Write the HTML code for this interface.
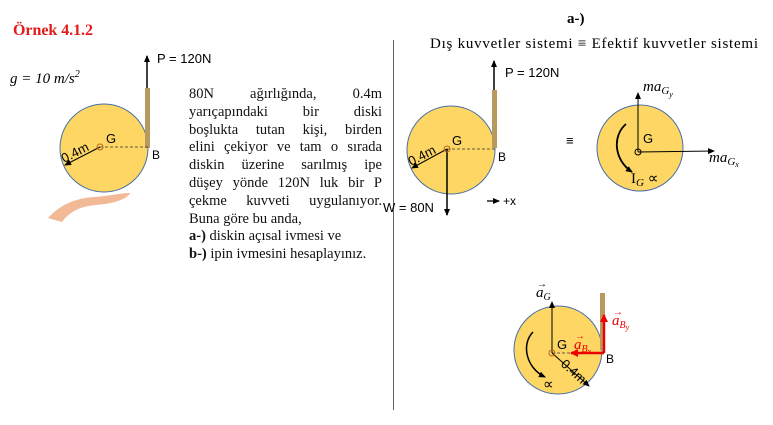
<!DOCTYPE html>
<html><head><meta charset="utf-8"><style>
html,body{margin:0;padding:0;background:#fff;width:773px;height:425px;overflow:hidden;position:relative}
svg{position:absolute;left:0;top:0}
.p{position:absolute;left:189px;top:86px;width:193px;font-family:"Liberation Serif",serif;font-size:14.5px;line-height:17.8px;color:#111}
.p div{text-align:justify;text-align-last:justify;white-space:nowrap}
.p div.l{text-align-last:left}
</style></head><body>
<svg width="773" height="425" viewBox="0 0 773 425" font-family="Liberation Sans, sans-serif">
<defs>
<marker id="a" markerWidth="8" markerHeight="8" refX="6" refY="3" orient="auto" markerUnits="userSpaceOnUse"><path d="M0,0 L7,3 L0,6z" fill="#000"/></marker>
<marker id="r" markerWidth="10" markerHeight="10" refX="7" refY="4" orient="auto" markerUnits="userSpaceOnUse"><path d="M0,0 L8,4 L0,8z" fill="#e00"/></marker>
</defs>
<text x="13" y="35" font-family="Liberation Serif, serif" font-weight="bold" font-size="16" fill="#e21b1b" textLength="80">Örnek 4.1.2</text>
<text x="567" y="23" font-family="Liberation Serif, serif" font-weight="bold" font-size="15">a-)</text>
<text x="430" y="48" font-family="Liberation Serif, serif" font-size="15" textLength="328">Dış kuvvetler sistemi  ≡  Efektif kuvvetler sistemi</text>
<line x1="393.5" y1="40" x2="393.5" y2="410" stroke="#666" stroke-width="1"/>
<text x="10" y="83" font-family="Liberation Serif, serif" font-style="italic" font-size="15">g = 10 m/s<tspan dy="-6" font-size="10">2</tspan></text>
<path d="M48,218 C60,205 75,198 95,197 C110,196 122,193 130,193 C128,198 118,202 105,204 C90,206 75,205 62,222 Z" fill="#f2b997"/>
<circle cx="104" cy="148" r="44" fill="#fdd663" stroke="#4a6fa5" stroke-width="1"/>
<rect x="145" y="88" width="5" height="60" fill="#b89a5e"/>
<line x1="147" y1="88" x2="147" y2="56" stroke="#000" stroke-width="1.5" marker-end="url(#a)"/>
<text x="157" y="63" font-size="13">P = 120N</text>
<line x1="100" y1="147" x2="148" y2="147" stroke="#333" stroke-dasharray="3,2" stroke-width="0.8"/>
<line x1="100" y1="147" x2="65" y2="165" stroke="#000" stroke-width="1" marker-end="url(#a)"/>
<circle cx="100" cy="147" r="3" fill="none" stroke="#c0661a" stroke-width="1"/>
<text x="106" y="143" font-size="13">G</text>
<text x="152" y="159" font-size="12">B</text>
<text x="64" y="163" font-size="13" transform="rotate(-27 64 163)">0.4m</text>
<circle cx="451" cy="150" r="44" fill="#fdd663" stroke="#4a6fa5" stroke-width="1"/>
<rect x="492" y="90" width="5" height="58" fill="#b89a5e"/>
<line x1="494" y1="90" x2="494" y2="61" stroke="#000" stroke-width="1.5" marker-end="url(#a)"/>
<text x="505" y="77" font-size="13">P = 120N</text>
<line x1="447" y1="149" x2="495" y2="149" stroke="#333" stroke-dasharray="3,2" stroke-width="0.8"/>
<line x1="447" y1="149" x2="412" y2="168" stroke="#000" stroke-width="1" marker-end="url(#a)"/>
<line x1="447" y1="149" x2="447" y2="215" stroke="#000" stroke-width="1.5" marker-end="url(#a)"/>
<circle cx="447" cy="149" r="3" fill="none" stroke="#c0661a" stroke-width="1"/>
<text x="452" y="145" font-size="13">G</text>
<text x="498" y="161" font-size="12">B</text>
<text x="411" y="166" font-size="13" transform="rotate(-27 411 166)">0.4m</text>
<text x="383" y="212" font-size="13">W = 80N</text>
<line x1="487" y1="201" x2="499" y2="201" stroke="#000" stroke-width="1.3" marker-end="url(#a)"/>
<text x="503" y="205" font-size="12">+x</text>
<text x="566" y="145" font-size="13">≡</text>
<circle cx="640" cy="148" r="43" fill="#fdd663" stroke="#4a6fa5" stroke-width="1"/>
<line x1="638" y1="152" x2="638" y2="93" stroke="#000" stroke-width="1" marker-end="url(#a)"/>
<line x1="638" y1="152" x2="714" y2="151" stroke="#000" stroke-width="1" marker-end="url(#a)"/>
<circle cx="638" cy="152" r="3" fill="none" stroke="#000" stroke-width="1"/>
<text x="643" y="143" font-size="13">G</text>
<path d="M626,124 C612,136 614,160 632,172" fill="none" stroke="#000" stroke-width="1.8" marker-end="url(#a)"/>
<text x="631" y="183" font-family="Liberation Serif, serif" font-size="15">I<tspan font-style="italic" font-size="11" dy="3">G</tspan><tspan dy="-3"> ∝</tspan></text>
<text x="643" y="91" font-family="Liberation Serif, serif" font-style="italic" font-size="15">ma<tspan font-size="11" dy="3">G</tspan><tspan font-size="8" dy="3">y</tspan></text>
<text x="709" y="162" font-family="Liberation Serif, serif" font-style="italic" font-size="15">ma<tspan font-size="11" dy="3">G</tspan><tspan font-size="8" dy="2">x</tspan></text>
<circle cx="558" cy="350" r="44" fill="#fdd663" stroke="#4a6fa5" stroke-width="1"/>
<rect x="600" y="293" width="5" height="57" fill="#b89a5e"/>
<line x1="552" y1="353" x2="552" y2="302" stroke="#000" stroke-width="1" marker-end="url(#a)"/>
<line x1="552" y1="353" x2="604" y2="353" stroke="#333" stroke-dasharray="3,2" stroke-width="0.8"/>
<line x1="604" y1="353" x2="571" y2="353" stroke="#e00" stroke-width="2.5" marker-end="url(#r)"/>
<line x1="604" y1="353" x2="604" y2="315" stroke="#e00" stroke-width="2.5" marker-end="url(#r)"/>
<line x1="552" y1="353" x2="589" y2="386" stroke="#000" stroke-width="1" marker-end="url(#a)"/>
<circle cx="552" cy="353" r="3" fill="none" stroke="#c0661a" stroke-width="1"/>
<text x="557" y="349" font-size="13">G</text>
<text x="606" y="363" font-size="12">B</text>
<text x="560" y="365" font-size="13" transform="rotate(42 560 365)">0.4m</text>
<path d="M533,332 C521,344 526,368 545,377" fill="none" stroke="#000" stroke-width="1.5" marker-end="url(#a)"/>
<text x="543" y="389" font-family="Liberation Serif, serif" font-size="15">∝</text>
<text x="536" y="297" font-family="Liberation Serif, serif" font-style="italic" font-size="15">a<tspan font-size="10" dy="3">G</tspan></text>
<text x="537" y="287" font-size="10">→</text>
<text x="574" y="349" font-family="Liberation Serif, serif" font-style="italic" font-size="15" fill="#e00">a<tspan font-size="10" dy="3">B</tspan><tspan font-size="8" dy="2">x</tspan></text>
<text x="575" y="339" font-size="10" fill="#e00">→</text>
<text x="612" y="325" font-family="Liberation Serif, serif" font-style="italic" font-size="15" fill="#e00">a<tspan font-size="10" dy="3">B</tspan><tspan font-size="8" dy="2">y</tspan></text>
<text x="613" y="315" font-size="10" fill="#e00">→</text>
</svg>
<div class="p">
<div>80N ağırlığında, 0.4m</div>
<div>yarıçapındaki bir diski</div>
<div>boşlukta tutan kişi, birden</div>
<div>elini çekiyor ve tam o sırada</div>
<div>diskin üzerine sarılmış ipe</div>
<div>düşey yönde 120N luk bir P</div>
<div>çekme kuvveti uygulanıyor.</div>
<div class="l">Buna göre bu anda,</div>
<div class="l"><b>a-)</b> diskin açısal ivmesi ve</div>
<div class="l"><b>b-)</b> ipin ivmesini hesaplayınız.</div>
</div>
</body></html>
